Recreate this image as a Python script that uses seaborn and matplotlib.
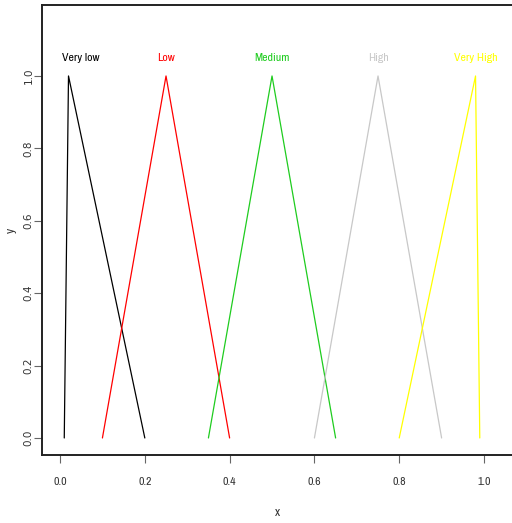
import matplotlib
matplotlib.use("Agg")
import matplotlib.pyplot as plt
import pandas as pd
import seaborn as sns

# fuzzy set triangles (x at foot, peak, foot)
sets = ["Very low", "Low", "Medium", "High", "Very High"]
x_pts = [
    [0.01, 0.02, 0.20],
    [0.10, 0.25, 0.40],
    [0.35, 0.50, 0.65],
    [0.60, 0.75, 0.90],
    [0.80, 0.98, 0.99],
]
y_pts = [0.0, 1.0, 0.0]
label_x = [0.05, 0.25, 0.50, 0.75, 0.98]
label_y = 1.05
colors = ["black", "red", "#1fcc1f", "#c8c8c8", "yellow"]
x_ticks = [0.0, 0.2, 0.4, 0.6, 0.8, 1.0]
y_ticks = [0.0, 0.2, 0.4, 0.6, 0.8, 1.0]

rows = []
for name, xs in zip(sets, x_pts):
    for i, (xv, yv) in enumerate(zip(xs, y_pts)):
        rows.append({"set": name, "order": i, "x": xv, "y": yv})
df = pd.DataFrame(rows)

sns.set_style("ticks")
plt.rcParams["font.family"] = ["Archivo Narrow", "DejaVu Sans"]

fig = plt.figure(figsize=(5.12, 5.23), dpi=100)
ax = fig.add_axes([42 / 512, (523 - 455) / 523, 1 - 42 / 512, (455 - 5) / 523])

sns.lineplot(data=df, x="x", y="y", hue="set", palette=dict(zip(sets, colors)),
             sort=False, estimator=None, units="set", lw=0.9, legend=False, ax=ax)

for name, lx, c in zip(sets, label_x, colors):
    ax.text(lx, label_y, name, color=c, ha="center", va="center", fontsize=8.5)

ax.set_xlim(-0.0425, 1.066)
ax.set_ylim(-0.047, 1.196)
ax.set_xticks(x_ticks)
ax.set_xticklabels([f"{v:.1f}" for v in x_ticks], fontsize=8.5, color="#333333")
ax.set_yticks(y_ticks)
ax.set_yticklabels([f"{v:.1f}" for v in y_ticks], fontsize=7.5, color="#333333",
                   rotation=90, va="center", family="DejaVu Sans")
ax.tick_params(length=6, width=0.8, color="#666666")
ax.tick_params(axis="x", pad=10)
ax.tick_params(axis="y", pad=0)
ax.set_xlabel("x", fontsize=9, color="#333333", labelpad=14)
ax.set_ylabel("y", fontsize=9, color="#333333", labelpad=5)
ax.spines["right"].set_visible(False)
for s in ["left", "bottom", "top"]:
    ax.spines[s].set_linewidth(1.4)
    ax.spines[s].set_color("#222222")

fig.savefig("out.png", dpi=100)
